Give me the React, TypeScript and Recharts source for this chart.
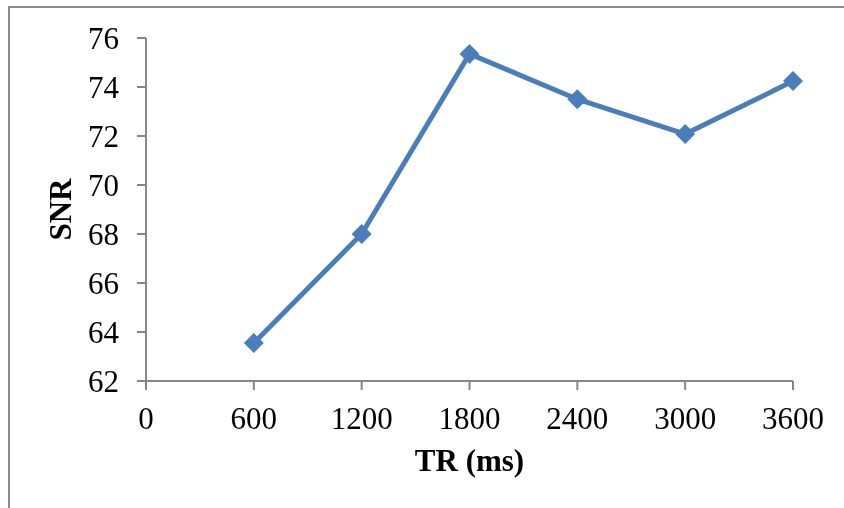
import React from 'react';
import { LineChart, Line, XAxis, YAxis, Label } from 'recharts';

const trValues = [600, 1200, 1800, 2400, 3000, 3600];
const snrValues = [63.55, 68.0, 75.35, 73.5, 72.08, 74.24];
const xTicks = [0, 600, 1200, 1800, 2400, 3000, 3600];
const yTicks = [62, 64, 66, 68, 70, 72, 74, 76];

const data = trValues.map((tr, i) => ({ tr, snr: snrValues[i] }));

const FONT = "'Times New Roman', 'Liberation Serif', serif";
const AXIS_GREY = '#878787';
const LINE_BLUE = '#4A7EBB';

const Diamond = (props: any) => {
  const { cx, cy, index } = props;
  if (cx == null || cy == null) return <g key={index} />;
  const r = 10;
  return (
    <polygon
      key={index}
      points={`${cx},${cy - r} ${cx + r},${cy} ${cx},${cy + r} ${cx - r},${cy}`}
      fill={LINE_BLUE}
    />
  );
};

const SnrLabel = (props: any) => {
  const { x, y, height } = props.viewBox;
  const lx = x + 50;
  const ly = y + height / 2;
  return (
    <text
      x={lx}
      y={ly}
      transform={`rotate(-90, ${lx}, ${ly})`}
      textAnchor="middle"
      dominantBaseline="central"
      fontFamily={FONT}
      fontWeight="bold"
      fontSize={31}
      fill="#000"
    >
      SNR
    </text>
  );
};

const TrLabel = (props: any) => {
  const { x, y, width } = props.viewBox;
  return (
    <text
      x={x + width / 2}
      y={y + 90}
      textAnchor="middle"
      fontFamily={FONT}
      fontWeight="bold"
      fontSize={31}
      fill="#000"
    >
      TR (ms)
    </text>
  );
};

export default function App() {
  // the frame is cut off at the right and bottom edges in the source image
  return (
    <div
      style={{
        position: 'fixed',
        left: 8,
        top: 6,
        width: 834,
        height: 500,
        borderLeft: '2px solid #8c8c8c',
        borderTop: '2px solid #8c8c8c'
      }}
    >
      <LineChart
        width={834}
        height={500}
        data={data}
        margin={{ top: 30, right: 51, left: 0, bottom: 27 }}
      >
        <XAxis
          dataKey="tr"
          type="number"
          domain={[0, 3600]}
          ticks={xTicks}
          height={100}
          stroke={AXIS_GREY}
          strokeWidth={2}
          tickSize={9}
          tickMargin={17}
          tick={{ fill: '#000', fontSize: 31, fontFamily: FONT }}
        >
          <Label content={TrLabel} />
        </XAxis>
        <YAxis
          type="number"
          domain={[62, 76]}
          ticks={yTicks}
          width={136}
          stroke={AXIS_GREY}
          strokeWidth={2}
          tickSize={9}
          tickMargin={18}
          tick={{ fill: '#000', fontSize: 31, fontFamily: FONT }}
        >
          <Label content={SnrLabel} />
        </YAxis>
        <Line
          dataKey="snr"
          stroke={LINE_BLUE}
          strokeWidth={5}
          dot={Diamond}
          activeDot={false}
          isAnimationActive={false}
        />
      </LineChart>
    </div>
  );
}
